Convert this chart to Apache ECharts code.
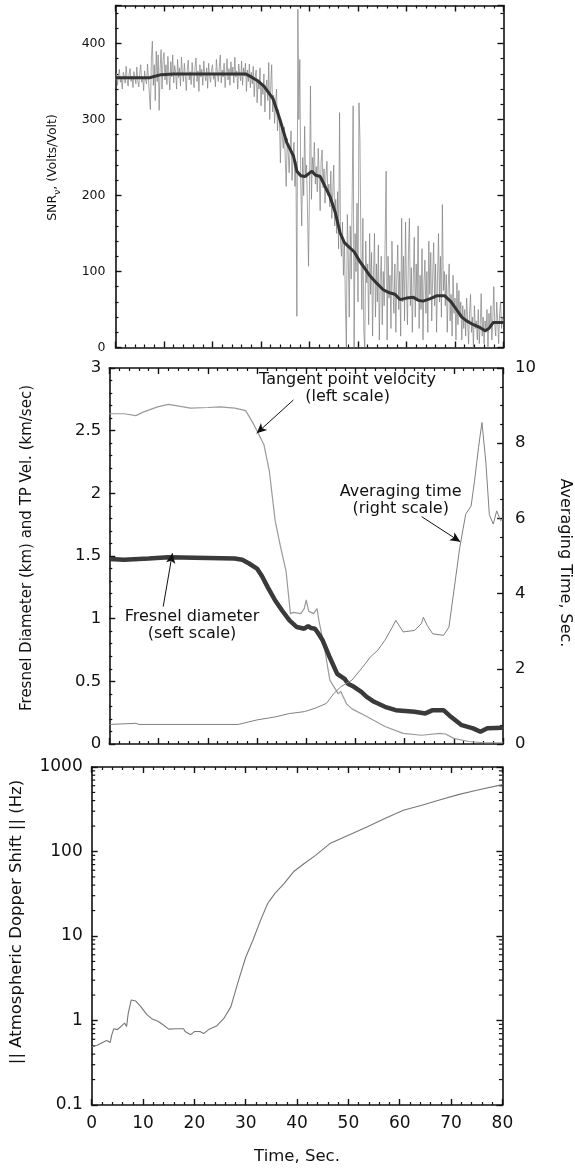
<!DOCTYPE html>
<html><head><meta charset="utf-8">
<script src="https://cdn.jsdelivr.net/npm/echarts@6/dist/echarts.min.js"></script>
<style>html,body{margin:0;padding:0;background:#fff}#c{width:575px;height:1168px}</style>
</head><body><div id="c"></div><script>
// ---------- DATA ----------
// Top panel: raw SNR samples every 0.2 s from t = 0 to 80 s (one row = 4 s)
const SNR_DT = 0.2;
const snrRaw = [
  352, 361, 345, 358, 366, 349, 355, 340, 362, 357, 348, 370, 353, 344, 360, 367, 350, 357, 342, 363,
  355, 347, 369, 351, 343, 361, 372, 349, 356, 338, 364, 352, 347, 373, 355, 331, 313, 380, 403, 345,
  372, 325, 390, 350, 385, 312, 367, 392, 340, 378, 388, 352, 372, 346, 383, 360, 339, 376, 356, 385,
  348, 371, 362, 340, 379, 355, 368, 344, 382, 361, 350, 374, 357, 338, 366, 378, 352, 363, 346, 375,
  358, 342, 369, 381, 350, 364, 337, 372, 356, 366, 345, 377, 360, 351, 368, 341, 374, 358, 349, 366,
  372, 353, 360, 343, 379, 362, 350, 368, 385, 348, 365, 356, 374, 342, 361, 380, 352, 367, 345, 376,
  358, 369, 348, 382, 356, 364, 340, 373, 360, 351, 377, 345, 368, 357, 374, 337, 365, 350, 373, 342,
  362, 347, 370, 330, 356, 365, 322, 351, 340, 368, 318, 346, 333, 360, 310, 341, 352, 325, 375, 300,
  344, 372, 310, 332, 295, 320, 340, 285, 313, 300, 243, 295, 278, 262, 290, 248, 212, 275, 258, 230,
  262, 285, 220, 250, 270, 212, 245, 41, 445, 300, 379, 215, 160, 250, 200, 291, 225, 240, 175, 107,
  210, 344, 195, 250, 230, 270, 215, 238, 205, 262, 225, 180, 245, 260, 210, 235, 190, 228, 245, 200,
  215, 185, 232, 170, 205, 240, 160, 195, 150, 205, 130, 309, 140, 120, 165, 95, 140, 60, 0, 175,
  120, 40, 160, 90, 200, 318, 0, 150, 100, 190, 60, 322, 274, 130, 50, 170, 20, 0, 140, 85,
  110, 30, 150, 70, 125, 15, 95, 150, 40, 110, 60, 135, 10, 90, 120, 30, 100, 55, 140, 232,
  10, 120, 65, 95, 25, 140, 80, 45, 110, 20, 90, 135, 50, 100, 15, 170, 60, 120, 35, 165,
  75, 30, 125, 170, 55, 105, 20, 90, 145, 40, 110, 65, 160, 25, 95, 50, 130, 10, 85, 115,
  45, 100, 20, 140, 70, 125, 35, 95, 138, 55, 110, 20, 90, 150, 60, 120, 40, 188, 75, 100,
  55, 96, 20, 80, 110, 35, 70, 15, 95, 45, 65, 10, 85, 30, 75, 40, 60, 10, 55, 25,
  50, 15, 65, 35, 5, 45, 70, 20, 40, 0, 55, 25, 35, 10, 50, 5, 30, 71, 15, 40,
  5, 35, 20, 50, 0, 45, 25, 55, 10, 40, 80, 30, 15, 60, 35, 5, 45, 60, 25, 40,
  35
];
// Top panel: smoothed SNR [time, value]
const snrSmooth = [[0,355],[4,355],[7,355],[9.4,359],[12,360],[20,360],[26.8,360],[28,356],[29.3,351],[30.6,344],[32.5,327],[33.9,300],[35.3,270],[36.7,252],[37.4,232],[38.2,226],[39.1,225],[40.5,232],[41.2,227],[42.2,225],[43.2,212],[44.2,199],[45.3,178],[46.3,151],[47.2,138],[48,133],[49.2,126],[50.4,113],[51.5,103],[52.5,94],[53.8,85],[55.2,76],[56.5,72],[57.6,70],[58.7,63],[60,65],[61.4,66],[62.5,62],[63.4,61],[64.8,64],[66.2,68],[67.9,68],[69.2,60],[70.3,50],[71.4,40],[72.4,35],[73.8,30],[75.2,26],[76.2,22],[77,25],[77.9,33],[80,33]];

// Middle panel [time, value]
const tpVelocity = [[0,2.635],[3,2.635],[5.4,2.62],[7,2.65],[9.8,2.69],[12,2.71],[16.5,2.68],[20,2.685],[22.5,2.69],[25.5,2.68],[27.7,2.66],[29.2,2.56],[30,2.5],[31.4,2.39],[32.5,2.18],[33.7,1.78],[34.8,1.57],[35.9,1.38],[36.8,1.04],[37.4,1.05],[38.9,1.04],[39.6,1.08],[40,1.15],[40.5,1.06],[41.5,1.04],[42.2,1.08],[42.6,0.98],[43.7,0.77],[44.8,0.51],[45.9,0.44],[46.5,0.4],[47,0.42],[48.2,0.32],[49.3,0.28],[52.3,0.22],[56,0.14],[59.7,0.085],[63.4,0.07],[67.2,0.085],[68.3,0.08],[70,0.045],[73,0.02],[76,0.01],[80,0.01]];
const fresnelDiameter = [[0,1.476],[3,1.47],[8,1.48],[12,1.49],[20,1.485],[25.5,1.48],[27,1.47],[28.4,1.44],[30,1.4],[31,1.34],[32.2,1.25],[33.7,1.145],[35.1,1.065],[36.6,0.986],[38.1,0.933],[39.6,0.92],[40.4,0.94],[41,0.925],[41.8,0.92],[42.5,0.88],[43.3,0.83],[44.8,0.69],[46.3,0.56],[47.8,0.52],[48.5,0.48],[49.7,0.456],[51.2,0.416],[52.3,0.376],[53.8,0.337],[56,0.297],[58.2,0.27],[62,0.257],[64.2,0.244],[65.7,0.27],[67.9,0.27],[69.4,0.217],[71.6,0.15],[73.9,0.125],[75.4,0.098],[76.8,0.125],[80,0.13]];
const averagingTime = [[0,0.52],[5.4,0.55],[6,0.52],[26.2,0.52],[30,0.64],[33.7,0.72],[36.6,0.81],[39.6,0.86],[41.8,0.95],[44.1,1.08],[45.6,1.34],[47,1.52],[49.3,1.7],[51.5,2.05],[53,2.31],[54.5,2.49],[56,2.76],[57.5,3.11],[58.2,3.29],[59.7,2.98],[62,3.02],[63.4,3.2],[63.8,3.37],[64.6,3.15],[65.7,2.93],[67.9,2.89],[69,3.11],[70.1,4.17],[71.2,5.23],[72.4,6.11],[73.5,6.33],[74.2,7.0],[75,7.88],[75.7,8.55],[76.5,7.5],[77.2,6.1],[78,5.85],[78.7,6.2],[79.5,5.94],[80,6.0]];

// Bottom panel [time, Hz]
const dopplerShift = [[0,0.49],[1.07,0.51],[2.1,0.55],[2.9,0.58],[3.6,0.55],[3.9,0.67],[4.3,0.8],[5,0.78],[5.7,0.85],[6.4,0.93],[6.8,0.85],[7.1,1.2],[7.7,1.75],[8.6,1.7],[9.6,1.45],[10.7,1.18],[11.8,1.04],[12.9,0.98],[13.9,0.89],[15,0.79],[16.4,0.8],[17.9,0.8],[18.2,0.74],[19.3,0.68],[20,0.74],[21.1,0.74],[21.8,0.7],[22.9,0.79],[24.3,0.86],[25.7,1.05],[27.1,1.45],[28.6,2.98],[30,5.6],[31.4,8.9],[32.9,15.4],[34.3,24.4],[35.7,32],[37.5,42],[39.3,57.5],[41.4,72],[43.6,90],[46.4,124],[50,156],[53.6,195],[57.1,245],[60.7,308],[64.3,352],[67.9,410],[71.4,471],[75,530],[80,618]];
const logMinorTicks = [0.2,0.3,0.4,0.5,0.6,0.7,0.8,0.9,2,3,4,5,6,7,8,9,20,30,40,50,60,70,80,90,200,300,400,500,600,700,800,900];

// Annotations [time, left-scale value]
const tpText = [48.4, 2.835], tpArrow = [[37.4, 2.745], [29.94, 2.479]];
const avgText = [59.2, 1.947], avgArrow = [[63.46, 1.814], [71.29, 1.614]];
const frText = [16.8, 0.943], frArrow = [[10.95, 1.096], [12.82, 1.522]];

// Axis titles
const snrTitle = ['SNR', 'ν', ', (Volts/Volt)'];
const midLeftTitle = 'Fresnel Diameter (km) and TP Vel. (km/sec)';
const midRightTitle = 'Averaging Time, Sec.';
const botLeftTitle = '|| Atmospheric Dopper Shift || (Hz)';
const timeTitle = 'Time, Sec.';

// ---------- CHART ----------
const FONT = 'DejaVu Sans';
const AX = '#111';
const T_MIN = 0, T_MAX = 80;
const chart = echarts.init(document.getElementById('c'), null, {renderer: 'canvas'});

function axLine() { return {show: true, onZero: false, lineStyle: {color: AX, width: 1.6}}; }
function tick() { return {show: true, inside: true, length: 6, lineStyle: {color: AX, width: 1.4}}; }
function minor(n) { return {show: true, splitNumber: n, length: 3, lineStyle: {color: AX, width: 1.2}}; }

function xAx(grid, pos, labels) {
  return {type: 'value', gridIndex: grid, position: pos, min: T_MIN, max: T_MAX, interval: 10,
    axisLine: axLine(), axisTick: tick(), minorTick: minor(5),
    splitLine: {show: false}, minorSplitLine: {show: false},
    axisLabel: {show: labels, fontFamily: FONT, fontSize: 17, color: AX, margin: 10}};
}
function yAx(grid, pos, min, max, interval, nMinor, labels, fs, margin) {
  return {type: 'value', gridIndex: grid, position: pos, min: min, max: max, interval: interval,
    axisLine: axLine(), axisTick: tick(), minorTick: minor(nMinor),
    splitLine: {show: false}, minorSplitLine: {show: false},
    axisLabel: {show: labels, fontFamily: FONT, fontSize: fs, color: AX, margin: margin, showMaxLabel: max % interval === 0}};
}
function logAx(grid, pos, labels) {
  return {type: 'log', logBase: 10, gridIndex: grid, position: pos, min: 0.1, max: 1000, splitNumber: 4,
    axisLine: axLine(), axisTick: tick(), minorTick: {show: false},
    splitLine: {show: false},
    axisLabel: {show: labels, fontFamily: FONT, fontSize: 17, color: AX, margin: 9,
      formatter: v => (v < 1 ? '0.1' : String(Math.round(v)))}};
}

const lbl = {fontFamily: FONT, fontSize: 16, lineHeight: 17, color: AX, align: 'center', verticalAlign: 'middle'};
function textPoint(c, text) {
  return {coord: c, symbol: 'rect', symbolSize: 1, itemStyle: {color: 'rgba(0,0,0,0)'},
    label: Object.assign({show: true, position: 'inside', formatter: text}, lbl)};
}
function arrow(a) {
  return {type: 'line', symbol: ['none', 'arrow'], symbolSize: [7, 10], silent: true,
    lineStyle: {color: AX, width: 1, type: 'solid'}, label: {show: false},
    data: [[{coord: a[0]}, {coord: a[1]}]]};
}

const option = {
  animation: false,
  backgroundColor: '#fff',
  grid: [
    {left: 115.5, top: 5.5, width: 388, height: 342, containLabel: false},
    {left: 109.3, top: 368, width: 393.8, height: 376, containLabel: false},
    {left: 91.7, top: 767, width: 410.7, height: 338, containLabel: false}
  ],
  xAxis: [
    xAx(0, 'bottom', false), xAx(0, 'top', false),
    xAx(1, 'bottom', false), xAx(1, 'top', false),
    xAx(2, 'bottom', true), xAx(2, 'top', false)
  ],
  yAxis: [
    yAx(0, 'left', 0, 450, 100, 5, true, 12.5, 10),
    yAx(0, 'right', 0, 450, 100, 5, false, 12.5, 10),
    yAx(1, 'left', 0, 3, 0.5, 5, true, 16.5, 8),
    yAx(1, 'right', 0, 10, 2, 4, true, 16.5, 12),
    logAx(2, 'left', true),
    logAx(2, 'right', false)
  ],
  series: [
    {type: 'line', name: 'SNR raw', xAxisIndex: 0, yAxisIndex: 0, showSymbol: false,
      data: snrRaw.map((v, i) => [i * SNR_DT, v]), lineStyle: {color: '#808080', width: 0.7}},
    {type: 'line', name: 'SNR smoothed', xAxisIndex: 0, yAxisIndex: 0, showSymbol: false,
      data: snrSmooth, lineStyle: {color: '#333', width: 3}},
    {type: 'line', name: 'Tangent point velocity', xAxisIndex: 2, yAxisIndex: 2, showSymbol: false,
      data: tpVelocity, lineStyle: {color: '#9a9a9a', width: 1.2},
      markLine: arrow(tpArrow),
      markPoint: {silent: true, data: [textPoint(tpText, 'Tangent point velocity\n(left scale)')]}},
    {type: 'line', name: 'Fresnel diameter', xAxisIndex: 2, yAxisIndex: 2, showSymbol: false,
      data: fresnelDiameter, lineStyle: {color: '#3a3a3a', width: 4.5},
      markLine: arrow(frArrow),
      markPoint: {silent: true, data: [textPoint(frText, 'Fresnel diameter\n(seft scale)')]}},
    {type: 'line', name: 'Averaging time', xAxisIndex: 3, yAxisIndex: 3, showSymbol: false,
      data: averagingTime, lineStyle: {color: '#808080', width: 1}},
    {type: 'line', name: 'Annot avg', xAxisIndex: 2, yAxisIndex: 2, showSymbol: false, data: [],
      markLine: arrow(avgArrow),
      markPoint: {silent: true, data: [textPoint(avgText, 'Averaging time\n(right scale)')]}},
    {type: 'line', name: 'Doppler', xAxisIndex: 4, yAxisIndex: 4, showSymbol: false,
      data: dopplerShift, lineStyle: {color: '#777', width: 1.1}},
    {type: 'custom', name: 'log minor ticks', xAxisIndex: 4, yAxisIndex: 4, silent: true, clip: false,
      data: logMinorTicks.map(v => [T_MIN, v]),
      renderItem: (params, api) => {
        const v = api.value(1);
        const l = api.coord([T_MIN, v]), r = api.coord([T_MAX, v]);
        return {type: 'group', children: [
          {type: 'line', shape: {x1: l[0], y1: l[1], x2: l[0] + 3.5, y2: l[1]}, style: {stroke: AX, lineWidth: 1.2}},
          {type: 'line', shape: {x1: r[0] - 3.5, y1: r[1], x2: r[0], y2: r[1]}, style: {stroke: AX, lineWidth: 1.2}}
        ]};
      }}
  ],
  graphic: [
    {type: 'text', x: 53, y: 167.5, rotation: Math.PI / 2,
      style: {text: '{a|' + snrTitle[0] + '}{s|' + snrTitle[1] + '}{a|' + snrTitle[2] + '}',
        align: 'center', verticalAlign: 'middle', fill: AX,
        rich: {a: {fontFamily: FONT, fontSize: 12.5, lineHeight: 18, fill: AX, color: AX},
               s: {fontFamily: FONT, fontSize: 9, lineHeight: 9, verticalAlign: 'bottom', fill: AX, color: AX}}}},
    {type: 'text', x: 27.5, y: 548, rotation: Math.PI / 2,
      style: {text: midLeftTitle, font: '15px "DejaVu Sans"', fill: AX, align: 'center', verticalAlign: 'middle'}},
    {type: 'text', x: 565, y: 563, rotation: -Math.PI / 2,
      style: {text: midRightTitle, font: '16px "DejaVu Sans"', fill: AX, align: 'center', verticalAlign: 'middle'}},
    {type: 'text', x: 16.5, y: 922, rotation: Math.PI / 2,
      style: {text: botLeftTitle, font: '16.5px "DejaVu Sans"', fill: AX, align: 'center', verticalAlign: 'middle'}},
    {type: 'text', x: 297, y: 1157,
      style: {text: timeTitle, font: '16.5px "DejaVu Sans"', fill: AX, align: 'center', verticalAlign: 'middle'}}
  ]
};
chart.setOption(option);
</script></body></html>
